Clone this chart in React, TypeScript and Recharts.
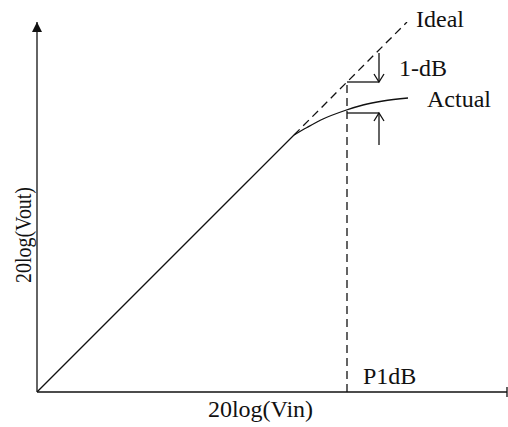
import React from "react";
import {
  LineChart,
  Line,
  XAxis,
  YAxis,
  ReferenceLine,
  ReferenceDot,
} from "recharts";

// levels in dB, same step on both axes so the ideal curve is 45 degrees
const idealIn = [0, 25.7, 37];
const idealOut = [0, 25.7, 37];
const actualIn = [25.7, 27.0, 28.6, 30.8, 32.6, 34.6, 37.1];
const actualOut = [25.7, 26.45, 27.3, 28.15, 28.7, 29.1, 29.4];

// 1-dB compression point and the arrows marking the gap
const p1dbIn = 31;
const p1dbIdeal = 31;
const p1dbActual = 27.9;
const arrowIn = 34.2;
const arrowTop = 33.9;
const arrowBottom = 24.7;

const xMax = 47;
const yMax = 37;

const linearPart = idealIn.slice(0, 2).map((x, i) => ({ x, y: idealOut[i] }));
const idealPart = idealIn.slice(1).map((x, i) => ({ x, y: idealOut[i + 1] }));
const actual = actualIn.map((x, i) => ({ x, y: actualOut[i] }));

const FONT = "'Liberation Serif', 'Times New Roman', serif";
const INK = "#111";

const openArrow = (p: any) => {
  const { x1, y1, x2, y2 } = p;
  const dir = y2 > y1 ? 1 : -1;
  return (
    <g stroke={INK} strokeWidth={1.3} fill="none">
      <line x1={x1} y1={y1} x2={x2} y2={y2} />
      <polyline
        points={`${x2 - 5},${y2 - dir * 8} ${x2},${y2} ${x2 + 5},${y2 - dir * 8}`}
      />
    </g>
  );
};

const plainLine = (p: any) => (
  <line x1={p.x1} y1={p.y1} x2={p.x2} y2={p.y2} stroke={INK} strokeWidth={1.3} />
);

const axisArrow = (p: any) => (
  <polygon
    points={`${p.cx - 5},${p.cy + 10} ${p.cx},${p.cy} ${p.cx + 5},${p.cy + 10}`}
    fill={INK}
  />
);

const textAt = (text: string) => (p: any) => (
  <text x={p.cx} y={p.cy} fontFamily={FONT} fontSize={24} fill={INK}>
    {text}
  </text>
);

const XTitle = ({ viewBox }: any) => (
  <text
    x={viewBox.x + 223.5}
    y={viewBox.y + 25}
    textAnchor="middle"
    fontFamily={FONT}
    fontSize={24}
    fill={INK}
  >
    20log(Vin)
  </text>
);

const YTitle = ({ viewBox }: any) => {
  const cx = viewBox.x + 31;
  const cy = viewBox.y + 213;
  return (
    <text
      x={cx}
      y={cy}
      transform={`rotate(-90 ${cx} ${cy})`}
      textAnchor="middle"
      fontFamily={FONT}
      fontSize={24}
      textLength={96}
      lengthAdjust="spacingAndGlyphs"
      fill={INK}
    >
      20log(Vout)
    </text>
  );
};

export default function App() {
  return (
    <div style={{ position: "absolute", left: 0, top: 0, background: "#fff" }}>
      <LineChart
        width={508}
        height={427}
        margin={{ top: 22, right: 1, left: 0, bottom: 0 }}
      >
        <XAxis
          type="number"
          dataKey="x"
          domain={[0, xMax]}
          allowDataOverflow
          height={35}
          tick={false}
          tickLine={false}
          axisLine={{ stroke: INK, strokeWidth: 1.3 }}
          label={<XTitle />}
        />
        <YAxis
          type="number"
          dataKey="y"
          domain={[0, yMax]}
          allowDataOverflow
          width={37}
          tick={false}
          tickLine={false}
          axisLine={{ stroke: INK, strokeWidth: 1.3 }}
          label={<YTitle />}
        />

        {/* small end mark on the input axis */}
        <ReferenceLine
          segment={[{ x: xMax, y: -0.5 }, { x: xMax, y: 0.5 }]}
          ifOverflow="visible"
          shape={plainLine}
        />
        <ReferenceDot x={0} y={yMax} r={0} ifOverflow="visible" shape={axisArrow} />

        {/* P1dB marker */}
        <ReferenceLine
          segment={[{ x: p1dbIn, y: 0 }, { x: p1dbIn, y: p1dbIdeal }]}
          ifOverflow="visible"
          stroke={INK}
          strokeWidth={1.3}
          strokeDasharray="8 5"
        />
        <ReferenceLine
          segment={[{ x: p1dbIn, y: p1dbIdeal }, { x: arrowIn, y: p1dbIdeal }]}
          shape={plainLine}
        />
        <ReferenceLine
          segment={[{ x: p1dbIn, y: p1dbActual }, { x: arrowIn, y: p1dbActual }]}
          shape={plainLine}
        />
        <ReferenceLine
          segment={[{ x: arrowIn, y: arrowTop }, { x: arrowIn, y: p1dbIdeal }]}
          shape={openArrow}
        />
        <ReferenceLine
          segment={[{ x: arrowIn, y: arrowBottom }, { x: arrowIn, y: p1dbActual }]}
          shape={openArrow}
        />

        <Line
          data={linearPart}
          dataKey="y"
          type="linear"
          stroke={INK}
          strokeWidth={1.3}
          dot={false}
          isAnimationActive={false}
        />
        <Line
          data={idealPart}
          dataKey="y"
          type="linear"
          stroke={INK}
          strokeWidth={1.3}
          strokeDasharray="8 5"
          dot={false}
          isAnimationActive={false}
        />
        <Line
          data={actual}
          dataKey="y"
          type="monotone"
          stroke={INK}
          strokeWidth={1.3}
          dot={false}
          isAnimationActive={false}
        />

        <ReferenceDot x={37.9} y={36.5} r={0} ifOverflow="visible" shape={textAt("Ideal")} />
        <ReferenceDot x={36.2} y={31.6} r={0} ifOverflow="visible" shape={textAt("1-dB")} />
        <ReferenceDot x={39.0} y={28.5} r={0} ifOverflow="visible" shape={textAt("Actual")} />
        <ReferenceDot x={32.6} y={0.8} r={0} ifOverflow="visible" shape={textAt("P1dB")} />
      </LineChart>
    </div>
  );
}
